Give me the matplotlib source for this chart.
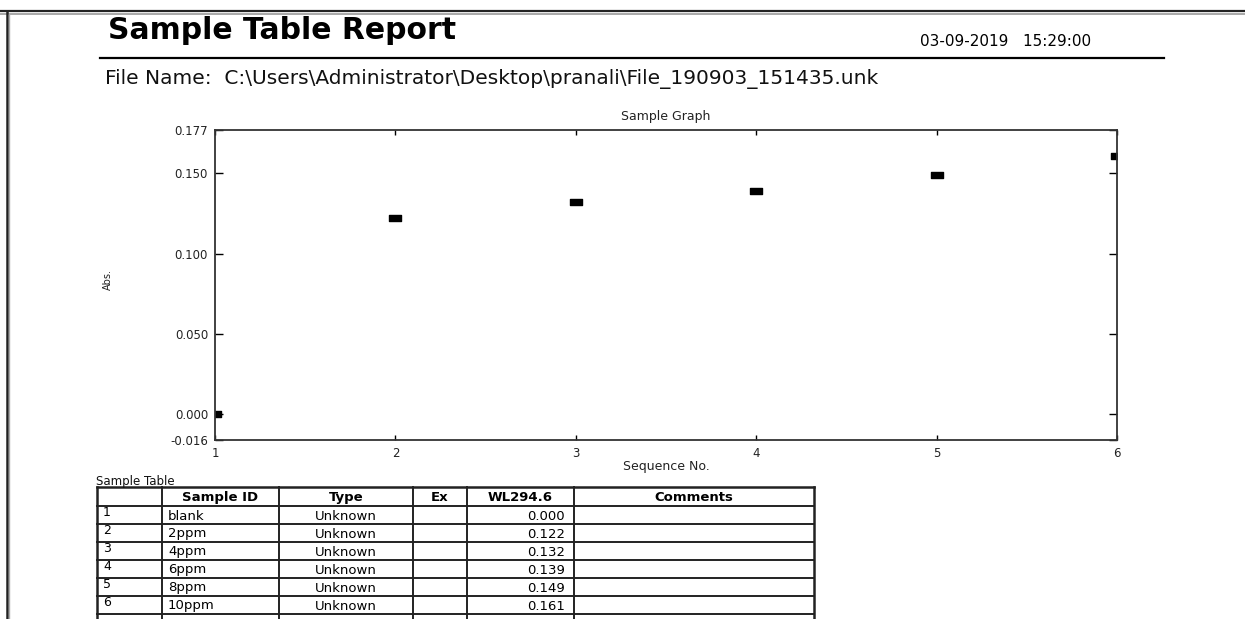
#!/usr/bin/env python3
import matplotlib
matplotlib.use('Agg')
import matplotlib.pyplot as plt
from matplotlib.path import Path

W, H = 1245, 619

# report data
seq_no = [1, 2, 3, 4, 5, 6]
sample_ids = ['blank', '2ppm', '4ppm', '6ppm', '8ppm', '10ppm']
sample_types = ['Unknown'] * 6
absorbance = [0.000, 0.122, 0.132, 0.139, 0.149, 0.161]
y_ticks = [-0.016, 0.000, 0.050, 0.100, 0.150, 0.177]
headers = ['', 'Sample ID', 'Type', 'Ex', 'WL294.6', 'Comments']

plt.rcParams['font.family'] = 'DejaVu Sans'

fig = plt.figure(figsize=(W / 100, H / 100), dpi=100)
fig.patch.set_facecolor('white')

# page layer in pixel coords
page = fig.add_axes([0, 0, 1, 1])
page.set_xlim(0, W)
page.set_ylim(H, 0)
page.axis('off')

# page frame
page.plot([0, W], [11, 11], color='#222222', lw=1.6)
page.plot([0, W], [14, 14], color='#999999', lw=1.2)
page.plot([6.5, 6.5], [11, H], color='#222222', lw=1.8)
page.plot([9, 9], [14, H], color='#aaaaaa', lw=1.0)

page.text(108, 39, 'Sample Table Report', fontsize=21.5, fontweight='bold',
          ha='left', va='baseline')
page.text(920, 46, '03-09-2019   15:29:00', fontsize=11, ha='left', va='baseline')
page.plot([100, 1164], [58, 58], color='black', lw=1.6)
page.text(105, 84, r'File Name:  C:\Users\Administrator\Desktop\pranali\File_190903_151435.unk',
          fontsize=14.5, ha='left', va='baseline', color='#111111')

# graph
ax = fig.add_axes([215 / W, 1 - 440 / H, 902 / W, 310 / H])
rect = Path([(-1, -0.55), (1, -0.55), (1, 0.55), (-1, 0.55), (-1, -0.55)],
            [Path.MOVETO, Path.LINETO, Path.LINETO, Path.LINETO, Path.CLOSEPOLY])
ax.plot(seq_no, absorbance, linestyle='none', marker=rect, markersize=8,
        color='black', clip_on=True)
ax.set_xlim(1, 6)
ax.set_ylim(-0.016, 0.177)
ax.set_xticks(seq_no)
ax.set_yticks(y_ticks)
ax.set_yticklabels(['%.3f' % v for v in y_ticks])
ax.tick_params(axis='y', direction='in', length=6, width=1, left=True, right=True,
               labelsize=8.5, pad=5, labelcolor='#222222')
ax.tick_params(axis='x', direction='in', length=3.5, width=1, top=True, bottom=True,
               labelsize=8.5, pad=5, labelcolor='#222222')
for s in ax.spines.values():
    s.set_linewidth(1.3)
    s.set_color('#333333')
ax.set_title('Sample Graph', fontsize=9, pad=7, color='#222222')
ax.set_xlabel('Sequence No.', fontsize=9, labelpad=0, color='#222222')
page.text(108, 280, 'Abs.', rotation=90, fontsize=7, ha='center', va='center',
          color='#222222')

# sample table
page.text(96, 481, 'Sample Table', fontsize=8.5, ha='left', va='center', color='#111111')
col_x = [97, 162, 279, 413, 467, 574, 814]
row_y = [487, 506, 524, 542, 560, 578, 596, 614, 640]
for i, x in enumerate(col_x):
    page.plot([x, x], [row_y[0], H], color='#222222',
              lw=1.8 if i in (0, len(col_x) - 1) else 1.4)
for j, y in enumerate(row_y[:-1]):
    page.plot([col_x[0], col_x[-1]], [y, y], color='#222222',
              lw=1.8 if j == 0 else 1.4)

for k, h in enumerate(headers):
    if h:
        page.text((col_x[k] + col_x[k + 1]) / 2, (row_y[0] + row_y[1]) / 2 + 1, h,
                  fontsize=9.5, fontweight='bold', ha='center', va='center')

for r in range(len(seq_no)):
    yc = (row_y[r + 1] + row_y[r + 2]) / 2 + 1
    page.text(col_x[0] + 6, yc - 3, str(seq_no[r]), fontsize=9, ha='left', va='center')
    page.text(col_x[1] + 6, yc, sample_ids[r], fontsize=9.5, ha='left', va='center')
    page.text((col_x[2] + col_x[3]) / 2, yc, sample_types[r], fontsize=9.5,
              ha='center', va='center')
    page.text(col_x[5] - 9, yc, '%.3f' % absorbance[r], fontsize=9.5,
              ha='right', va='center')

fig.savefig('out.png', dpi=100, facecolor='white')
